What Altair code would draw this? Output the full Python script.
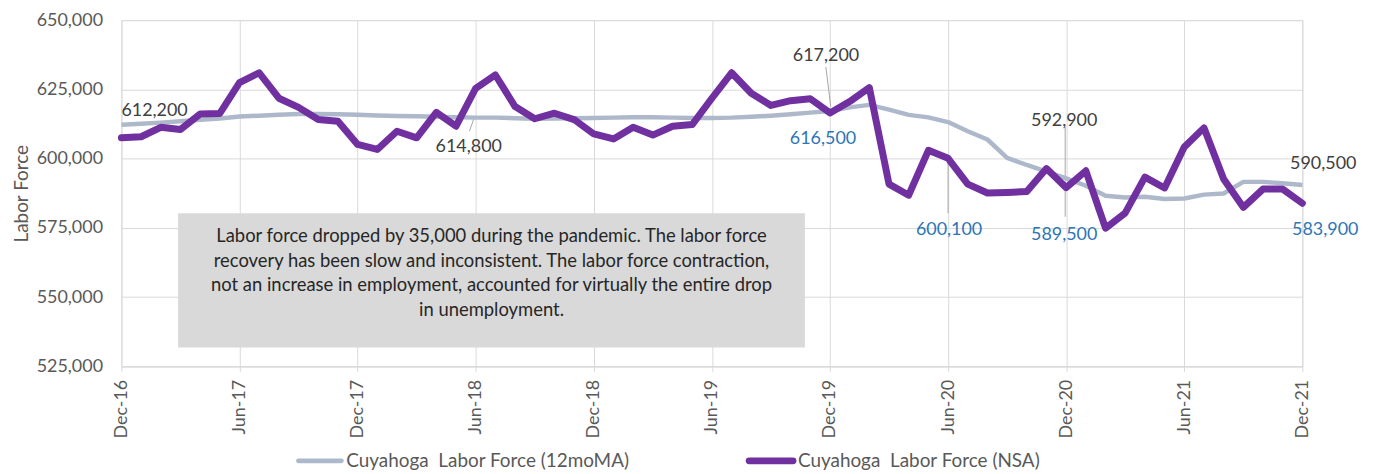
import altair as alt
import pandas as pd

# ---- data ----
tick_labels = ["Dec-16", "Jun-17", "Dec-17", "Jun-18", "Dec-18", "Jun-19",
               "Dec-19", "Jun-20", "Dec-20", "Jun-21", "Dec-21"]

nsa = [607500, 607900, 611300, 610500, 616100, 616300, 627400, 631000, 621800, 618500,
       614100, 613500, 605100, 603300, 609900, 607500, 616700, 611700, 625400, 630200,
       618800, 614400, 616400, 614100, 608900, 607100, 611300, 608500, 611700, 612300,
       621800, 631000, 623600, 619200, 620900, 621600, 616500, 620600, 625600, 590800,
       586800, 603000, 600100, 590800, 587600, 587800, 588100, 596400, 589500, 595600,
       574900, 580400, 593300, 589400, 604200, 611100, 592600, 582400, 589000, 589000,
       583900]

ma12 = [612200, 612600, 613000, 613500, 614000, 614500, 615200, 615500, 615800, 616100,
        616100, 616000, 615800, 615600, 615400, 615300, 615100, 614900, 614800, 614800,
        614600, 614400, 614500, 614600, 614700, 614800, 614900, 614900, 614800, 614700,
        614700, 614800, 615100, 615500, 616000, 616600, 617200, 618500, 619400, 617700,
        615800, 614900, 613200, 609900, 606900, 600300, 597700, 595300, 592900, 590200,
        586600, 586000, 586200, 585400, 585600, 587000, 587400, 591600, 591600, 591100,
        590500]

month_idx = list(range(len(nsa)))

# data labels
lab_idx = [0, 18, 36, 36, 42, 48, 48, 60, 60]
lab_val = [612200, 614800, 617200, 616500, 600100, 592900, 589500, 590500, 583900]
lab_txt = ["612,200", "614,800", "617,200", "616,500", "600,100", "592,900", "589,500",
           "590,500", "583,900"]
lab_grp = ["ma", "ma", "ma", "nsa", "nsa", "ma", "nsa", "ma", "nsa"]

# leader lines in data units
lead_x = [17.93, 35.79, 42.0, 47.95]
lead_x2 = [17.68, 36.04, 42.0, 47.95]
lead_y = [614900, 633100, 598500, 611500]
lead_y2 = [609900, 618750, 580300, 579000]

note_lines = [
    "Labor force dropped by 35,000 during the pandemic. The labor force",
    "recovery has been slow and inconsistent. The labor force contraction,",
    "not an increase in employment, accounted for virtually the entire drop",
    "in unemployment.",
]
legend_names = ["Cuyahoga\u00a0 Labor Force (12moMA)", "Cuyahoga\u00a0 Labor Force (NSA)"]

FONT = "Lato"
PURPLE = "#7030A0"
GREYBLUE = "#ADB9CA"
BLUE = "#2E75B6"
DARK = "#404040"
AXISC = "#595959"
GRID = "#D9D9D9"

df = pd.DataFrame({"idx": month_idx, "nsa": nsa, "ma": ma12})
labdf = pd.DataFrame({"idx": lab_idx, "val": lab_val, "txt": lab_txt, "grp": lab_grp})
leaddf = pd.DataFrame({"x": lead_x, "x2": lead_x2, "y": lead_y, "y2": lead_y2})

label_expr = "[" + ",".join("'%s'" % t for t in tick_labels) + "][round(datum.value/6)]"

xscale = alt.Scale(domain=[0, 60], nice=False, zero=False)
yscale = alt.Scale(domain=[525000, 650000], nice=False, zero=False)

xaxis = alt.Axis(values=list(range(0, 61, 6)), labelExpr=label_expr, labelAngle=270,
                 title=None, grid=True, gridColor=GRID, gridWidth=1,
                 domainColor=GRID, tickColor=GRID, tickSize=5, labelPadding=8,
                 labelFont=FONT, labelFontSize=18, labelColor=AXISC)
yaxis = alt.Axis(values=[525000, 550000, 575000, 600000, 625000, 650000], format=",.0f",
                 title="Labor Force", titleFont=FONT, titleFontSize=19, titleFontWeight="normal",
                 titleColor=AXISC, titlePadding=5, grid=True, gridColor=GRID, gridWidth=1,
                 domain=False, ticks=False, labelPadding=19, labelFont=FONT,
                 labelFontSize=18, labelColor=AXISC)

base = alt.Chart(df)

leaders = alt.Chart(leaddf).mark_rule(color="#A6A6A6", strokeWidth=1).encode(
    x=alt.X("x:Q", scale=xscale, axis=xaxis), x2="x2:Q",
    y=alt.Y("y:Q", scale=yscale, axis=yaxis), y2="y2:Q")

ma_line = base.mark_line(color=GREYBLUE, strokeWidth=4.5, strokeJoin="round").encode(
    x=alt.X("idx:Q", scale=xscale, axis=xaxis), y=alt.Y("ma:Q", scale=yscale, axis=yaxis))

nsa_line = base.mark_line(color=PURPLE, strokeWidth=7, strokeJoin="round",
                          strokeCap="round").encode(
    x=alt.X("idx:Q", scale=xscale, axis=xaxis), y=alt.Y("nsa:Q", scale=yscale, axis=yaxis))


def lab(i, dx, dy, align="center"):
    d = labdf.iloc[[i]]
    col = DARK if lab_grp[i] == "ma" else BLUE
    return alt.Chart(d).mark_text(font=FONT, fontSize=18, color=col, dx=dx, dy=dy,
                                  align=align, baseline="middle").encode(
        x=alt.X("idx:Q", scale=xscale, axis=xaxis),
        y=alt.Y("val:Q", scale=yscale, axis=yaxis), text="txt:N")


labels = [
    lab(0, 0, -14, "left"),
    lab(1, -7, 30),
    lab(2, -4, -55),
    lab(3, -7, 26),
    lab(4, 1, 72),
    lab(5, -2, -58),
    lab(6, -2, 48),
    lab(7, 21, -21),
    lab(8, 23, 27),
]

box = alt.Chart(pd.DataFrame({"k": [0]})).mark_rect(color="#D9D9D9").encode(
    x=alt.value(57), x2=alt.value(687), y=alt.value(194), y2=alt.value(329))

note = alt.Chart(pd.DataFrame({"k": [0]})).mark_text(
    text=note_lines, font=FONT, fontSize=18.5, color="#262626", align="center",
    baseline="alphabetic", lineHeight=24.8).encode(x=alt.value(372), y=alt.value(223))

leg_df = pd.DataFrame({"k": [0]})
leg1_sym = alt.Chart(leg_df).mark_rule(color=GREYBLUE, strokeWidth=5, strokeCap="round").encode(
    x=alt.value(178), x2=alt.value(221), y=alt.value(443))
leg2_sym = alt.Chart(leg_df).mark_rule(color=PURPLE, strokeWidth=7, strokeCap="round").encode(
    x=alt.value(631), x2=alt.value(675), y=alt.value(443))
leg1_txt = alt.Chart(leg_df).mark_text(text=legend_names[0], font=FONT, fontSize=19,
                                       color=AXISC, align="left", baseline="middle").encode(
    x=alt.value(226), y=alt.value(443))
leg2_txt = alt.Chart(leg_df).mark_text(text=legend_names[1], font=FONT, fontSize=19,
                                       color=AXISC, align="left", baseline="middle").encode(
    x=alt.value(680), y=alt.value(443))

chart = alt.layer(leaders, ma_line, nsa_line, box, note, *labels,
                  leg1_sym, leg2_sym, leg1_txt, leg2_txt).properties(
    width=1187, height=348,
    padding={"left": 114, "top": 11, "right": 70, "bottom": 105},
    autosize=alt.AutoSizeParams(type="none"),
).configure_view(stroke=None).configure(background="white")

chart.save("out.html", embed_options={"renderer": "svg", "actions": False})
